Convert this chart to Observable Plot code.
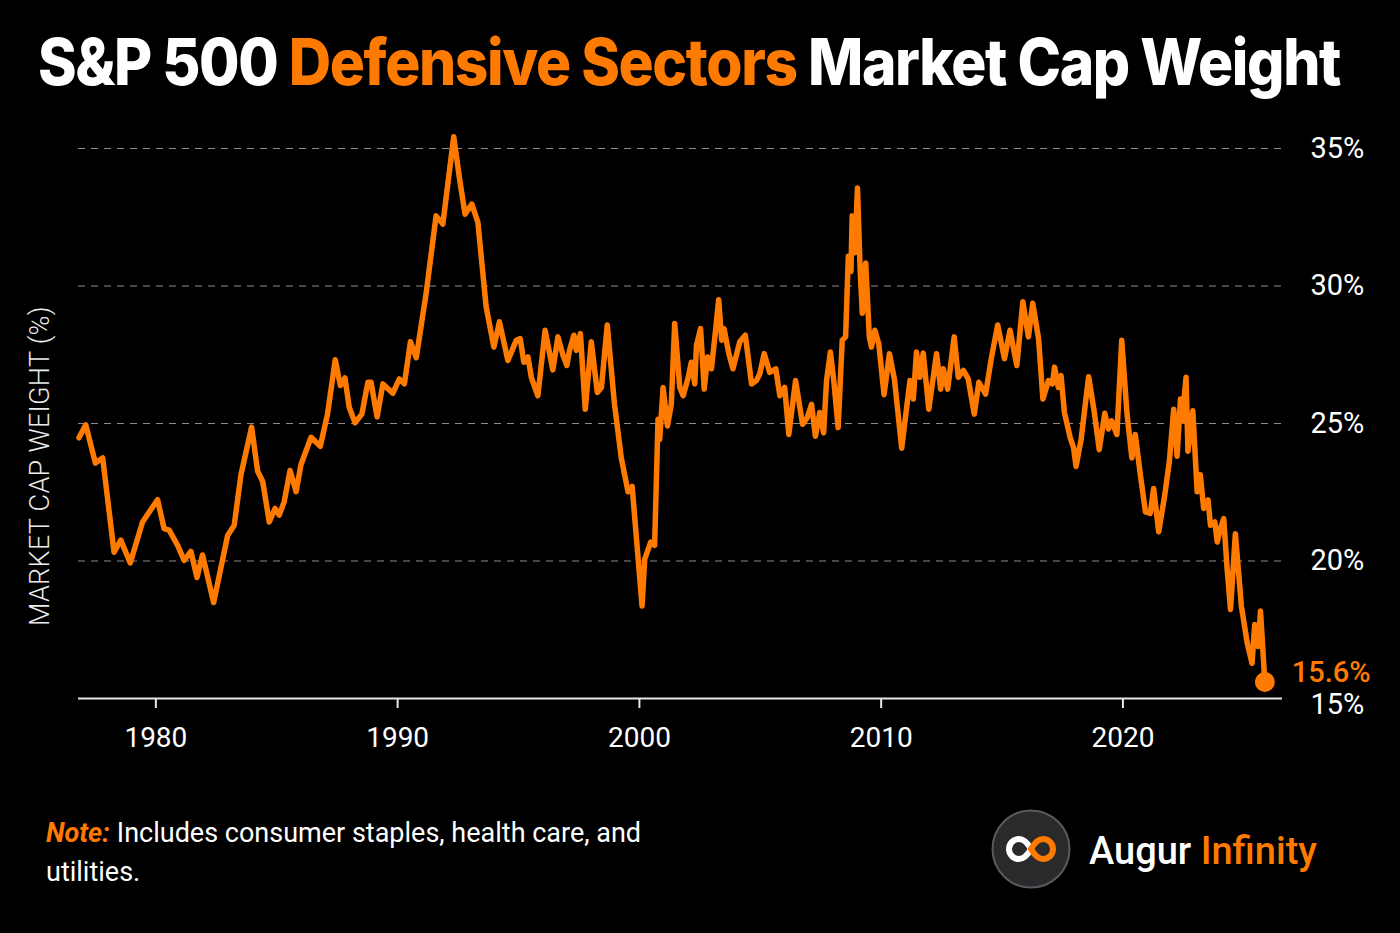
<!DOCTYPE html>
<html>
<head>
<meta charset="utf-8">
<script src="https://cdn.jsdelivr.net/npm/d3@7"></script>
<script src="https://cdn.jsdelivr.net/npm/@observablehq/plot@0.6"></script>
<style>
  html, body { margin: 0; padding: 0; background: #000; }
  body { width: 1400px; height: 933px; position: relative; overflow: hidden; font-family: Roboto, "Noto Sans", sans-serif; color: #fff; }
  #title { position: absolute; left: 38px; top: 30px; white-space: nowrap; font-family: Inter, Roboto, sans-serif; font-weight: 800; font-size: 64px; line-height: 64px; letter-spacing: -1.5px; transform-origin: 0 0; color: #fff; }
  #title .hl { color: #ff7a00; }
  #chart { position: absolute; left: 0; top: 120px; }
  #ylabel { position: absolute; left: -160px; top: 451px; width: 400px; height: 30px; line-height: 30px; text-align: center; transform: rotate(-90deg); font-size: 27px; font-weight: 300; color: #ececec; letter-spacing: 0.3px; }
  .note { position: absolute; left: 46px; font-size: 27px; line-height: 39px; color: #fff; white-space: nowrap; }
  .note b { color: #ff7a00; font-style: italic; font-weight: 700; margin-right: 7px; }
  #logo { position: absolute; left: 991px; top: 809px; width: 80px; height: 80px; }
  #brand { position: absolute; left: 1089px; top: 828px; font-size: 38px; line-height: 46px; font-weight: 500; color: #fff; white-space: nowrap; }
  #brand span { color: #ff7a00; }
</style>
</head>
<body>
<div id="title">S&amp;P 500 <span class="hl">Defensive Sectors</span> Market Cap Weight</div>
<div id="chart"></div>
<div id="ylabel">MARKET CAP WEIGHT (%)</div>
<div class="note" style="top:814px"><b>Note:</b><span>Includes consumer staples, health care, and</span></div>
<div class="note" style="top:853px"><span>utilities.</span></div>
<svg id="logo" viewBox="0 0 80 80">
  <circle cx="40" cy="40" r="38.5" fill="#2a2a2d" stroke="#5a5a5e" stroke-width="2"/>
  <path d="M40 40 C 36 33, 32 30, 28 30 C 22 30, 18 35, 18 40 C 18 45, 22 50, 28 50 C 32 50, 36 47, 40 40" fill="none" stroke="#fff" stroke-width="6" stroke-linecap="round"/>
  <path d="M40 40 C 44 33, 48 30, 52 30 C 58 30, 62 35, 62 40 C 62 45, 58 50, 52 50 C 48 50, 44 47, 40 40" fill="none" stroke="#ff7a00" stroke-width="6" stroke-linecap="round"/>
</svg>
<div id="brand">Augur <span>Infinity</span></div>
<script>
const ORANGE = "#ff7a00";

const years = [
  1976.82, 1977.10, 1977.50, 1977.80, 1978.27, 1978.55, 1978.94, 1979.45, 1980.07, 1980.34,
  1980.55, 1980.90, 1981.17, 1981.45, 1981.70, 1981.93, 1982.39, 1982.97, 1983.24, 1983.52,
  1983.96, 1984.21, 1984.42, 1984.69, 1984.93, 1985.10, 1985.31, 1985.55, 1985.80, 1986.00,
  1986.42, 1986.80, 1987.10, 1987.42, 1987.63, 1987.82, 1988.00, 1988.24, 1988.52, 1988.77,
  1988.90, 1989.15, 1989.39, 1989.80, 1990.07, 1990.28, 1990.53, 1990.77, 1991.18, 1991.59,
  1991.87, 1992.32, 1992.56, 1992.79, 1993.07, 1993.32, 1993.66, 1993.98, 1994.21, 1994.56,
  1994.91, 1995.07, 1995.22, 1995.39, 1995.53, 1995.80, 1996.10, 1996.42, 1996.63, 1996.84,
  1997.00, 1997.11, 1997.29, 1997.39, 1997.56, 1997.76, 1998.01, 1998.26, 1998.43, 1998.67,
  1998.97, 1999.25, 1999.53, 1999.70, 2000.11, 2000.22, 2000.47, 2000.63, 2000.77, 2000.84,
  2000.98, 2001.16, 2001.32, 2001.46, 2001.67, 2001.81, 2002.02, 2002.15, 2002.29, 2002.36,
  2002.53, 2002.68, 2002.82, 2002.98, 2003.15, 2003.28, 2003.40, 2003.50, 2003.70, 2003.87,
  2004.15, 2004.38, 2004.64, 2004.84, 2004.98, 2005.16, 2005.39, 2005.64, 2005.81, 2006.01,
  2006.18, 2006.46, 2006.75, 2006.94, 2007.12, 2007.28, 2007.46, 2007.62, 2007.74, 2007.90,
  2008.04, 2008.22, 2008.39, 2008.53, 2008.64, 2008.75, 2008.80, 2008.91, 2009.02, 2009.13,
  2009.22, 2009.36, 2009.51, 2009.60, 2009.74, 2009.90, 2010.12, 2010.34, 2010.55, 2010.85,
  2011.19, 2011.33, 2011.46, 2011.60, 2011.74, 2011.97, 2012.29, 2012.46, 2012.57, 2012.75,
  2013.02, 2013.19, 2013.40, 2013.60, 2013.85, 2014.04, 2014.32, 2014.54, 2014.82, 2015.10,
  2015.33, 2015.61, 2015.86, 2016.09, 2016.27, 2016.51, 2016.69, 2016.92, 2017.08, 2017.17,
  2017.33, 2017.44, 2017.58, 2017.82, 2017.96, 2018.06, 2018.27, 2018.58, 2018.80, 2019.02,
  2019.25, 2019.40, 2019.53, 2019.75, 2019.95, 2020.17, 2020.37, 2020.51, 2020.72, 2020.93,
  2021.13, 2021.27, 2021.48, 2021.73, 2021.92, 2022.10, 2022.24, 2022.38, 2022.45, 2022.61,
  2022.69, 2022.89, 2023.07, 2023.20, 2023.34, 2023.52, 2023.62, 2023.80, 2023.90, 2024.03,
  2024.17, 2024.31, 2024.45, 2024.65, 2024.90, 2025.14, 2025.34, 2025.45, 2025.59, 2025.69,
  2025.87
];

const weights = [
  24.48, 24.95, 23.56, 23.75, 20.32, 20.76, 19.93, 21.42, 22.23, 21.18,
  21.12, 20.57, 20.02, 20.35, 19.40, 20.22, 18.49, 20.93, 21.30, 23.14,
  24.87, 23.26, 22.89, 21.42, 21.91, 21.67, 22.16, 23.29, 22.52, 23.50,
  24.50, 24.17, 25.34, 27.32, 26.38, 26.66, 25.58, 25.03, 25.34, 26.50,
  26.50, 25.24, 26.44, 26.10, 26.62, 26.44, 27.97, 27.39, 29.74, 32.55,
  32.25, 35.43, 33.90, 32.61, 32.98, 32.31, 29.25, 27.78, 28.70, 27.29,
  28.03, 28.09, 27.23, 27.42, 26.68, 26.01, 28.39, 26.95, 28.15, 27.48,
  27.11, 27.66, 28.21, 27.66, 28.27, 25.52, 27.97, 26.13, 26.31, 28.58,
  25.70, 23.75, 22.52, 22.71, 18.36, 20.07, 20.69, 20.57, 25.15, 24.42,
  26.31, 24.91, 25.70, 28.64, 26.31, 26.01, 26.68, 27.23, 26.44, 27.84,
  28.45, 26.25, 27.42, 26.99, 28.39, 29.50, 28.03, 28.45, 27.54, 26.99,
  27.97, 28.21, 26.44, 26.56, 26.81, 27.54, 26.86, 26.99, 26.01, 26.31,
  24.60, 26.56, 24.97, 25.21, 25.70, 24.54, 25.40, 24.66, 26.56, 27.60,
  26.56, 24.85, 28.03, 28.15, 31.08, 30.53, 32.55, 31.21, 33.56, 30.60,
  29.01, 30.84, 28.15, 27.78, 28.39, 27.90, 26.05, 27.54, 26.60, 24.10,
  26.56, 25.89, 27.60, 26.68, 27.56, 25.52, 27.54, 26.25, 26.99, 26.25,
  28.15, 26.68, 26.93, 26.62, 25.34, 26.50, 26.07, 27.29, 28.58, 27.36,
  28.39, 27.11, 29.43, 28.15, 29.37, 28.09, 25.89, 26.56, 26.44, 27.05,
  26.31, 26.74, 25.40, 24.48, 24.11, 23.44, 24.42, 26.70, 25.50, 24.05,
  25.37, 24.80, 25.10, 24.60, 28.03, 25.34, 23.75, 24.60, 23.14, 21.79,
  21.73, 22.64, 21.06, 22.40, 23.62, 25.52, 23.81, 25.89, 25.09, 26.68,
  23.99, 25.46, 22.52, 23.14, 21.91, 22.22, 21.30, 21.42, 20.69, 21.18,
  21.54, 19.71, 18.24, 20.99, 18.36, 17.02, 16.28, 17.69, 16.89, 18.18,
  15.60
];

const xTicks = [1980, 1990, 2000, 2010, 2020];
const yGridTicks = [20, 25, 30, 35];
const yBaseTick = [15];

const data = years.map((year, i) => ({year, value: weights[i]}));
const last = data[data.length - 1];

const chart = Plot.plot({
  width: 1400,
  height: 650,
  marginLeft: 78,
  marginRight: 118,
  marginTop: 28,
  marginBottom: 72,
  style: {background: "transparent", color: "#fff", fontFamily: "Roboto, sans-serif", fontSize: "28px"},
  x: {domain: [1976.8, 2026.6]},
  y: {domain: [15, 35]},
  marks: [
    Plot.gridY(yGridTicks, {stroke: "#8c8c8c", strokeOpacity: 1, strokeWidth: 1.2, strokeDasharray: "7,6"}),
    Plot.ruleY(yBaseTick, {stroke: "#e8e8e8", strokeWidth: 2}),
    Plot.axisX({ticks: xTicks, tickFormat: d => String(d), tickSize: 10, tickPadding: 19, stroke: "#e8e8e8", strokeWidth: 2, label: null, fill: "#fff", fontSize: 28}),
    Plot.axisY({anchor: "right", ticks: yGridTicks, tickSize: 0, tickPadding: 28, tickFormat: d => d + "%", label: null, fill: "#fff", fontSize: 29}),
    Plot.axisY({anchor: "right", ticks: yBaseTick, tickSize: 0, tickPadding: 28, tickFormat: d => d + "%", label: null, fill: "#fff", fontSize: 29, dy: 6}),
    Plot.line(data, {x: "year", y: "value", stroke: ORANGE, strokeWidth: 5.5, strokeLinejoin: "round", strokeLinecap: "round"}),
    Plot.dot([last], {x: "year", y: "value", r: 10, fill: ORANGE, stroke: "none"}),
    Plot.text([last], {x: "year", y: "value", text: d => d.value.toFixed(1) + "%", dx: 27, dy: -9, textAnchor: "start", fill: ORANGE, fontSize: 29, fontWeight: 500})
  ]
});
document.getElementById("chart").appendChild(chart);

// fit title to reference width
const title = document.getElementById("title");
const w = title.getBoundingClientRect().width;
const target = 1302;
title.style.transform = `scaleX(${target / w})`;
</script>
</body>
</html>
